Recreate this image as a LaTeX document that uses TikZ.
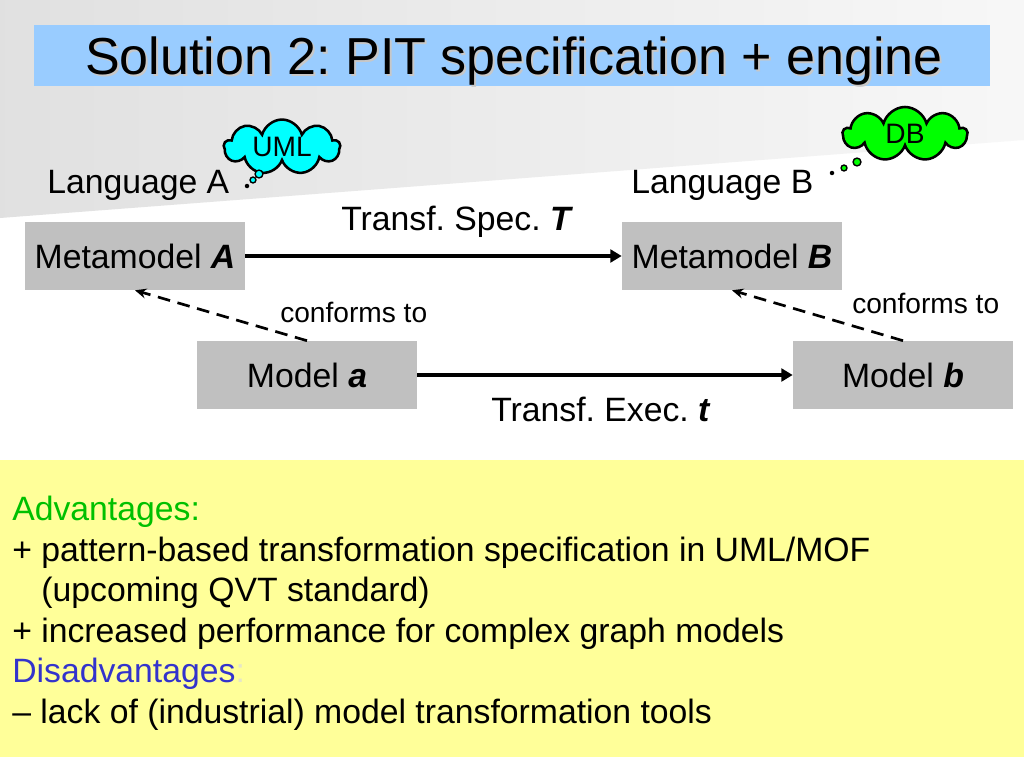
\documentclass[tikz,border=0pt]{standalone}
\usepackage{fontspec}
\setmainfont{Liberation Sans}
\usetikzlibrary{arrows.meta,positioning,shapes.symbols}
\definecolor{bandblue}{HTML}{99CCFF}
\definecolor{boxgray}{HTML}{C0C0C0}
\definecolor{notebg}{HTML}{FFFF99}
\definecolor{advgreen}{HTML}{00C000}
\definecolor{disblue}{HTML}{3333CC}
\definecolor{faintcol}{HTML}{E6E6C8}
\definecolor{umlcyan}{HTML}{00FFFF}
\definecolor{dbgreen}{HTML}{00FF00}
\frenchspacing

\begin{document}
\begin{tikzpicture}[x=.025cm,y=-.025cm,
  lbl/.style={font=\fontsize{24}{28.8}\selectfont,inner sep=0},
  mbox/.style={lbl,fill=boxgray,minimum width=5.5cm,minimum height=1.7cm},
  trans/.style={line width=2.3pt,-{Triangle[length=8pt,width=9pt]}},
  conf/.style={line width=1.9pt,dash pattern=on 9pt off 5.5pt,-{Stealth[length=8pt,width=7pt]}},
  thought/.style={cloud,cloud puffs=9,aspect=2.4,draw,line width=1.8pt,inner sep=0,font=\fontsize{20}{24}\selectfont}]
\useasboundingbox (0,0) rectangle (1024,768);
\fill[white] (0,0) rectangle (1024,768);
\shade[left color=black!12,right color=black!3] (0,0) -- (1024,0) -- (1024,140) -- (0,218) -- cycle;
\fill[bandblue] (34,25) rectangle (990,86);
\node[anchor=base,font=\fontsize{37}{44}\selectfont,text=black!22] at (516,77) {Solution 2: PIT specification + engine};
\node[anchor=base,font=\fontsize{37}{44}\selectfont] (title) at (514,75) {Solution 2: PIT specification + engine};
\node[thought,fill=umlcyan,minimum width=2.9cm,minimum height=1.3cm] (uml) at (282,147) {UML};
\node[thought,fill=dbgreen,minimum width=3.1cm,minimum height=1.35cm] (db) at (905,134) {DB};
\foreach \p/\r in {{(259,174)}/2.8pt,{(253,180)}/2.1pt}
  \filldraw[fill=umlcyan,line width=1pt] \p circle[radius=\r];
\fill (247,186) circle[radius=1.6pt];
\foreach \p/\r in {{(857,162)}/2.8pt,{(844,168)}/2.1pt}
  \filldraw[fill=dbgreen,line width=1pt] \p circle[radius=\r];
\fill (832,173) circle[radius=1.6pt];
\node[lbl,anchor=base west] (langA) at (47,193) {Language A};
\node[lbl,anchor=base west] (langB) at (631,193) {Language B};
\node[mbox] (mmA) at (135,256) {Metamodel \textbf{\textit{A}}};
\node[mbox] (mmB) at (732,256) {Metamodel \textbf{\textit{B}}};
\node[mbox] (ma) at (307,375) {Model \textbf{\textit{a}}};
\node[mbox] (mb) at (903,375) {Model \textbf{\textit{b}}};
\draw[trans] (mmA.east) -- (mmB.west);
\node[lbl,anchor=base west] (spec) at (341,230) {Transf. Spec. \textbf{\textit{T}}};
\draw[trans] (ma.east) -- (mb.west);
\node[lbl,anchor=base west] (exec) at (491,421) {Transf. Exec. \textbf{\textit{t}}};
\draw[conf] (ma.north) -- (mmA.south);
\node[anchor=base west,inner sep=0,font=\fontsize{20}{24}\selectfont] (confA) at (280,322) {conforms to};
\draw[conf] (mb.north) -- (mmB.south);
\node[anchor=base west,inner sep=0,font=\fontsize{20}{24}\selectfont] (confB) at (852,313) {conforms to};
\fill[notebg] (0,460) rectangle (1024,757);
\node[lbl,anchor=base west,align=left] (notes) at (12,723) {%
  {\color{advgreen}Advantages:}\\
  + pattern-based transformation specification in UML/MOF\\
  \hphantom{+\ }(upcoming QVT standard)\\
  + increased performance for complex graph models\\
  {\color{disblue}Disadvantages}{\color{faintcol}:}\\
  -- lack of (industrial) model transformation tools};
\end{tikzpicture}
\end{document}
